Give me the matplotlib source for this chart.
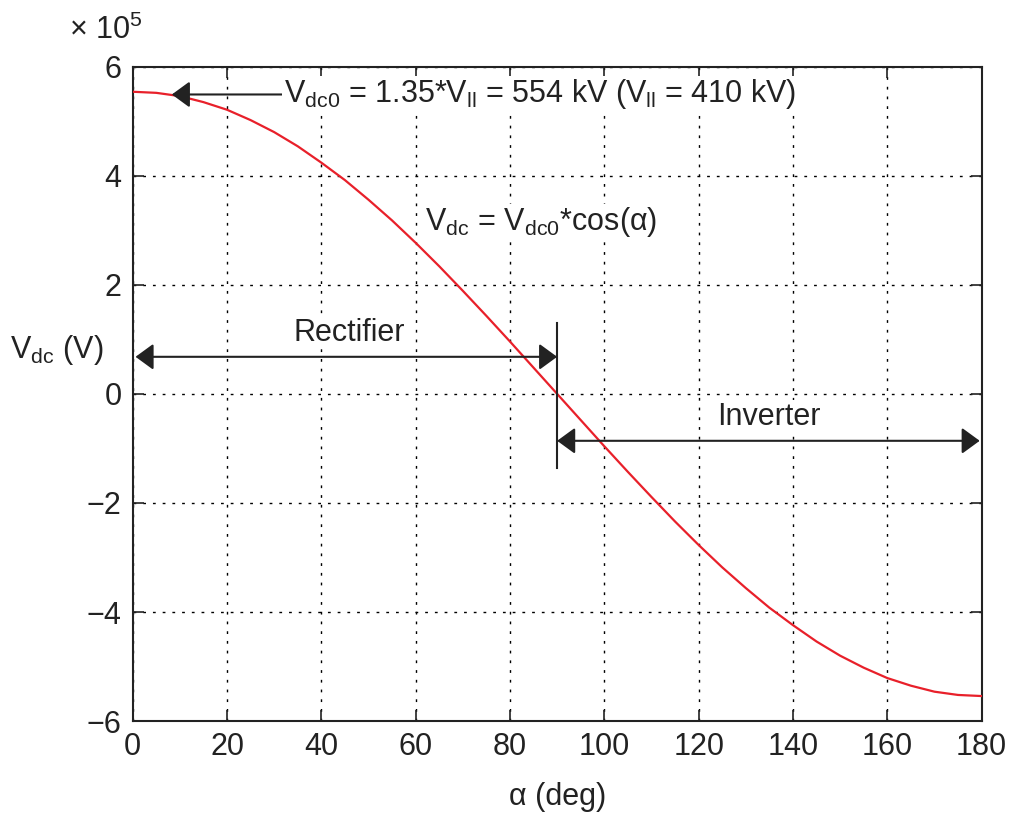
import matplotlib
matplotlib.use("Agg")
import matplotlib.pyplot as plt
from matplotlib.patches import FancyArrowPatch

plt.rcParams["font.family"] = ["Liberation Sans", "DejaVu Sans"]
plt.rcParams["mathtext.fontset"] = "custom"
plt.rcParams["mathtext.rm"] = "Liberation Sans"
plt.rcParams["mathtext.it"] = "Liberation Sans"
plt.rcParams["mathtext.default"] = "regular"

# values (x 10^5 V)
alpha_deg = [0, 5, 10, 15, 20, 25, 30, 35, 40, 45, 50, 55, 60, 65, 70, 75, 80, 85, 90,
             95, 100, 105, 110, 115, 120, 125, 130, 135, 140, 145, 150, 155, 160, 165, 170, 175, 180]
vdc_e5 = [5.54, 5.52, 5.46, 5.35, 5.21, 5.02, 4.80, 4.54, 4.24, 3.92, 3.56, 3.18, 2.77, 2.34,
          1.89, 1.43, 0.96, 0.48, 0.00, -0.48, -0.96, -1.43, -1.89, -2.34, -2.77, -3.18, -3.56,
          -3.92, -4.24, -4.54, -4.80, -5.02, -5.21, -5.35, -5.46, -5.52, -5.54]
xticks = [0, 20, 40, 60, 80, 100, 120, 140, 160, 180]
yticks = [-6, -4, -2, 0, 2, 4, 6]

fig = plt.figure(figsize=(10.13, 8.13), dpi=100)
ax = fig.add_axes([0.131, 0.113, 0.838, 0.805])

ax.plot(alpha_deg, vdc_e5, color="#e8202a", lw=1.6, zorder=3)
ax.set_xlim(0, 180)
ax.set_ylim(-6, 6)
ax.set_xticks(xticks)
ax.set_yticks(yticks)
ax.grid(True, color="black", linestyle=(0, (2, 5)), lw=1.0)
ax.tick_params(direction="in", length=8, width=1.2, top=True, right=True,
               labelsize=22, pad=8, color="#222222", labelcolor="#222222")
for s in ax.spines.values():
    s.set_linewidth(1.5)
    s.set_color("#222222")

ax.set_xlabel("α (deg)", fontsize=22, color="#222222", labelpad=14)
fig.text(0.01, 1 - 350 / 813, r"$V_{dc}$ (V)", fontsize=22, color="#222222", va="center")
fig.text(0.068, 1 - 30 / 813, r"$\times\ 10^{5}$", fontsize=22, color="#222222", va="center")

def arrow(x0, y0, x1, y1, style):
    a = FancyArrowPatch((x0, y0), (x1, y1), arrowstyle=style, mutation_scale=11,
                        color="#222222", lw=1.5, shrinkA=0, shrinkB=0, zorder=4)
    ax.add_patch(a)

head = "head_length=1.0,head_width=0.73"
box = dict(facecolor="white", edgecolor="none", pad=1)
# top label arrow
arrow(32.0, 5.49, 8.3, 5.49, "-|>," + head)
ax.text(32.0, 5.49, r"$V_{dc0}$ = 1.35*$V_{ll}$ = 554 kV ($V_{ll}$ = 410 kV)", fontsize=22,
        color="#222222", va="center", ha="left", bbox=box, zorder=5)
ax.text(86.7, 3.15, r"$V_{dc}$ = $V_{dc0}$*cos(α)", fontsize=22, color="#222222",
        ha="center", va="center", bbox=box, zorder=5)

# rectifier / inverter
ax.plot([90, 90], [-1.36, 1.3], color="#222222", lw=1.5, zorder=4)
arrow(0.6, 0.68, 90, 0.68, "<|-|>," + head)
ax.text(46, 1.12, "Rectifier", fontsize=22, color="#222222", ha="center", va="center",
        bbox=box, zorder=5)
arrow(90, -0.86, 179.6, -0.86, "<|-|>," + head)
ax.text(135, -0.42, "Inverter", fontsize=22, color="#222222", ha="center", va="center",
        bbox=box, zorder=5)

fig.savefig("out.png", dpi=100)
